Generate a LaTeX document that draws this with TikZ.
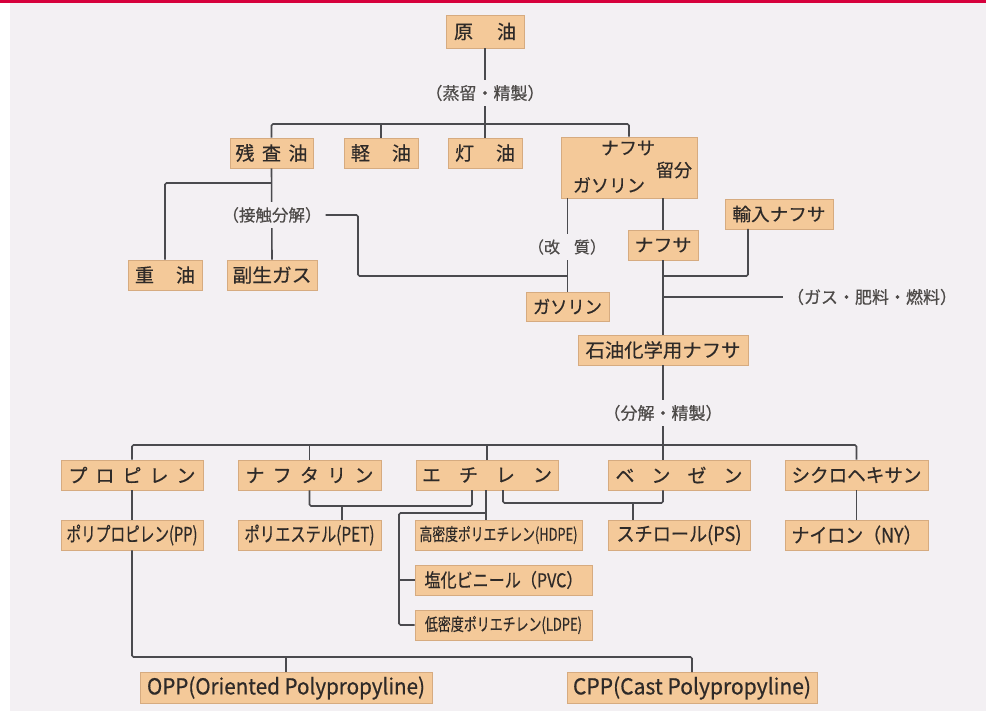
\documentclass[tikz,border=0pt]{standalone}
\usepackage{fontspec}
\usepackage{graphicx}
\setmainfont{Noto Sans CJK JP}[FakeBold=0.5]
\definecolor{bg}{HTML}{F3F0F3}
\definecolor{topred}{HTML}{D6003C}
\definecolor{boxfill}{HTML}{F4C999}
\definecolor{boxline}{HTML}{D6AB80}
\definecolor{ink}{HTML}{2E2A28}
\definecolor{wirec}{HTML}{4A4A4E}
\newcommand\wtxt[2]{\resizebox{#1}{\height}{#2}}
\newcommand\spread[2]{\makebox[#1][s]{#2}}
\newcommand\fs[1]{\fontsize{#1}{#1}\selectfont}
\tikzset{
  box/.style={draw=boxline, line width=0.9pt, fill=boxfill, inner sep=0pt, text=ink, font=\fs{18}},
  lbl/.style={inner xsep=4pt, inner ysep=5pt, fill=bg, text=ink!85, font=\fs{17}},
  txt/.style={inner sep=0pt, text=ink, font=\fs{18}},
  wire/.style={draw=wirec, line width=1.6pt, rounded corners=1.5pt},
}
\begin{document}
\begin{tikzpicture}[x=1pt,y=-1pt]
\useasboundingbox (0,0) rectangle (986,711);
\fill[white] (0,0) rectangle (986,711);
\fill[bg] (10,3) rectangle (986,711);
\fill[topred] (0,0) rectangle (986,3);

% ---- boxes
\node[box, minimum width=78pt, minimum height=33pt] (genyu) at (485,31.5) {\fs{19}\spread{62pt}{原\hfill 油}};
\node[box, minimum width=83pt, minimum height=30pt] (zansa) at (271.5,153) {\fs{19}\spread{72pt}{残\hfill 査\hfill 油}};
\node[box, minimum width=74pt, minimum height=30pt] (keiyu) at (381,153) {\fs{19}\spread{60pt}{軽\hfill 油}};
\node[box, minimum width=74pt, minimum height=30pt] (touyu) at (485,153) {\fs{19}\spread{60pt}{灯\hfill 油}};
\node[box, minimum width=136pt, minimum height=61pt] (naph) at (629,167.5) {};
\node[txt] (naphA) at (628,148) {ナフサ};
\node[txt] (naphB) at (609,185) {\wtxt{72pt}{ガソリン}};
\node[txt] (naphC) at (674,170) {留分};
\node[box, minimum width=74pt, minimum height=30pt] (juyu) at (165,275) {\fs{19}\spread{60pt}{重\hfill 油}};
\node[box, minimum width=90pt, minimum height=30pt] (fukusei) at (272,275) {\fs{19}\wtxt{79pt}{副生ガス}};
\node[box, minimum width=83pt, minimum height=29pt] (gas) at (567.5,306.5) {\wtxt{69pt}{ガソリン}};
\node[box, minimum width=70pt, minimum height=30pt] (naphtha) at (663,245) {\wtxt{57pt}{ナフサ}};
\node[box, minimum width=108pt, minimum height=30pt] (yunyu) at (779,214) {\wtxt{93pt}{輸入ナフサ}};
\node[box, minimum width=170pt, minimum height=30pt] (petnaph) at (663,350) {\fs{19}\wtxt{155pt}{石油化学用ナフサ}};

\node[box, minimum width=142pt, minimum height=30pt] (prop) at (132,475) {\fs{19}\spread{127pt}{プ\hfill ロ\hfill ピ\hfill レ\hfill ン}};
\node[box, minimum width=143pt, minimum height=30pt] (naphth) at (309.5,475) {\fs{19}\spread{128pt}{ナ\hfill フ\hfill タ\hfill リ\hfill ン}};
\node[box, minimum width=142pt, minimum height=30pt] (eth) at (487,475) {\fs{19}\spread{130pt}{エ\hfill チ\hfill レ\hfill ン}};
\node[box, minimum width=142pt, minimum height=30pt] (benz) at (679,475) {\fs{19}\spread{127pt}{ベ\hfill ン\hfill ゼ\hfill ン}};
\node[box, minimum width=143pt, minimum height=30pt] (cyclo) at (856.5,475) {\fs{19}\wtxt{130pt}{シクロヘキサン}};

\node[box, minimum width=142pt, minimum height=30pt] (pp) at (132,535) {\fs{20}\wtxt{131pt}{ポリプロピレン(PP)}};
\node[box, minimum width=143pt, minimum height=30pt] (pet) at (309.5,535) {\fs{20}\wtxt{130pt}{ポリエステル(PET)}};
\node[box, minimum width=167pt, minimum height=30pt] (hdpe) at (498.5,535) {\fs{17.5}\wtxt{158pt}{高密度ポリエチレン(HDPE)}};
\node[box, minimum width=142pt, minimum height=30pt] (ps) at (679,535) {\fs{20}\wtxt{125pt}{スチロール(PS)}};
\node[box, minimum width=143pt, minimum height=30pt] (ny) at (856.5,535) {\fs{20}\wtxt{130pt}{ナイロン（NY）}};
\node[box, minimum width=177pt, minimum height=30pt] (pvc) at (503.5,580) {\fs{19}\wtxt{158pt}{塩化ビニール（PVC）}};
\node[box, minimum width=177pt, minimum height=30pt] (ldpe) at (503.5,625) {\fs{17.5}\wtxt{157pt}{低密度ポリエチレン(LDPE)}};
\node[box, minimum width=292pt, minimum height=31pt] (opp) at (286,688) {\fs{22}\wtxt{278pt}{OPP(Oriented Polypropyline)}};
\node[box, minimum width=250pt, minimum height=31pt] (cpp) at (692,688) {\fs{22}\wtxt{238pt}{CPP(Cast Polypropyline)}};

% ---- coordinates
\coordinate (b1) at (485,124);
\coordinate (j1) at (271.5,183);
\coordinate (k1) at (358,276);
\coordinate (yd) at (748,229);
\coordinate (m1) at (663,276);
\coordinate (m2) at (663,297);
\coordinate (bus2) at (663,445);
\coordinate (eL) at (472,490);
\coordinate (eM) at (486,490);
\coordinate (eR) at (503,490);
\coordinate (pt) at (472,506);
\coordinate (pd) at (342,506);
\coordinate (ev) at (486,513);
\coordinate (lt) at (399,513);
\coordinate (st) at (663,503);
\coordinate (sd) at (633,503);
\coordinate (bb) at (692,657);
\coordinate (ob) at (286,657);

% ---- connectors
\draw[wire] (genyu.south) -- (touyu.north);
\draw[wire] (zansa.north) |- (b1) -| (naph.north);
\draw[wire] (keiyu.north) -- (keiyu.north |- b1);
\draw[wire] (zansa.south) -- (fukusei.north);
\draw[wire] (j1) -| (juyu.north);
\draw[wire] (gas.north |- naph.south) -- (gas.north);
\draw[wire] (naphtha.north |- naph.south) -- (naphtha.north);
\draw[wire] (naphtha.south) -- (petnaph.north);
\draw[wire] (yd) |- (m1);
\draw[wire] (petnaph.south) -- (petnaph.south |- benz.north);
\draw[wire] (prop.north) |- (bus2) -| (cyclo.north);
\draw[wire] (naphth.north) -- (naphth.north |- bus2);
\draw[wire] (eth.north) -- (eth.north |- bus2);
\draw[wire] (prop.south) -- (pp.north);
\draw[wire] (naphth.south) |- (pt) -- (eL);
\draw[wire] (pd) -- (pd |- pet.north);
\draw[wire] (eM) -- (eM |- hdpe.north);
\draw[wire] (ev) -- (lt) |- (ldpe.west);
\draw[wire] (lt |- pvc.west) -- (pvc.west);
\draw[wire] (eR) |- (st) -- (st |- benz.south);
\draw[wire] (sd) -- (sd |- ps.north);
\draw[wire] (cyclo.south) -- (ny.north);
\draw[wire] (pp.south) |- (bb) -- (bb |- cpp.north);
\draw[wire] (ob) -- (opp.north);

% ---- labels
\node[lbl] (lab1) at (485,93) {（蒸留・精製）};
\node[lbl, font=\fs{16.5}] (lab2) at (272,215) {（接触分解）};
\draw[wire] (lab2.east) -| (k1) -- (gas.north |- k1);
\node[lbl, font=\fs{16}] (lab3) at (567,247) {（改\hspace{14pt}質）};
\node[lbl] (lab4) at (872,297) {（ガス・肥料・燃料）};
\draw[wire] (m2) -- (lab4.west);
\node[lbl] (lab5) at (663,413) {（分解・精製）};
\end{tikzpicture}
\end{document}
